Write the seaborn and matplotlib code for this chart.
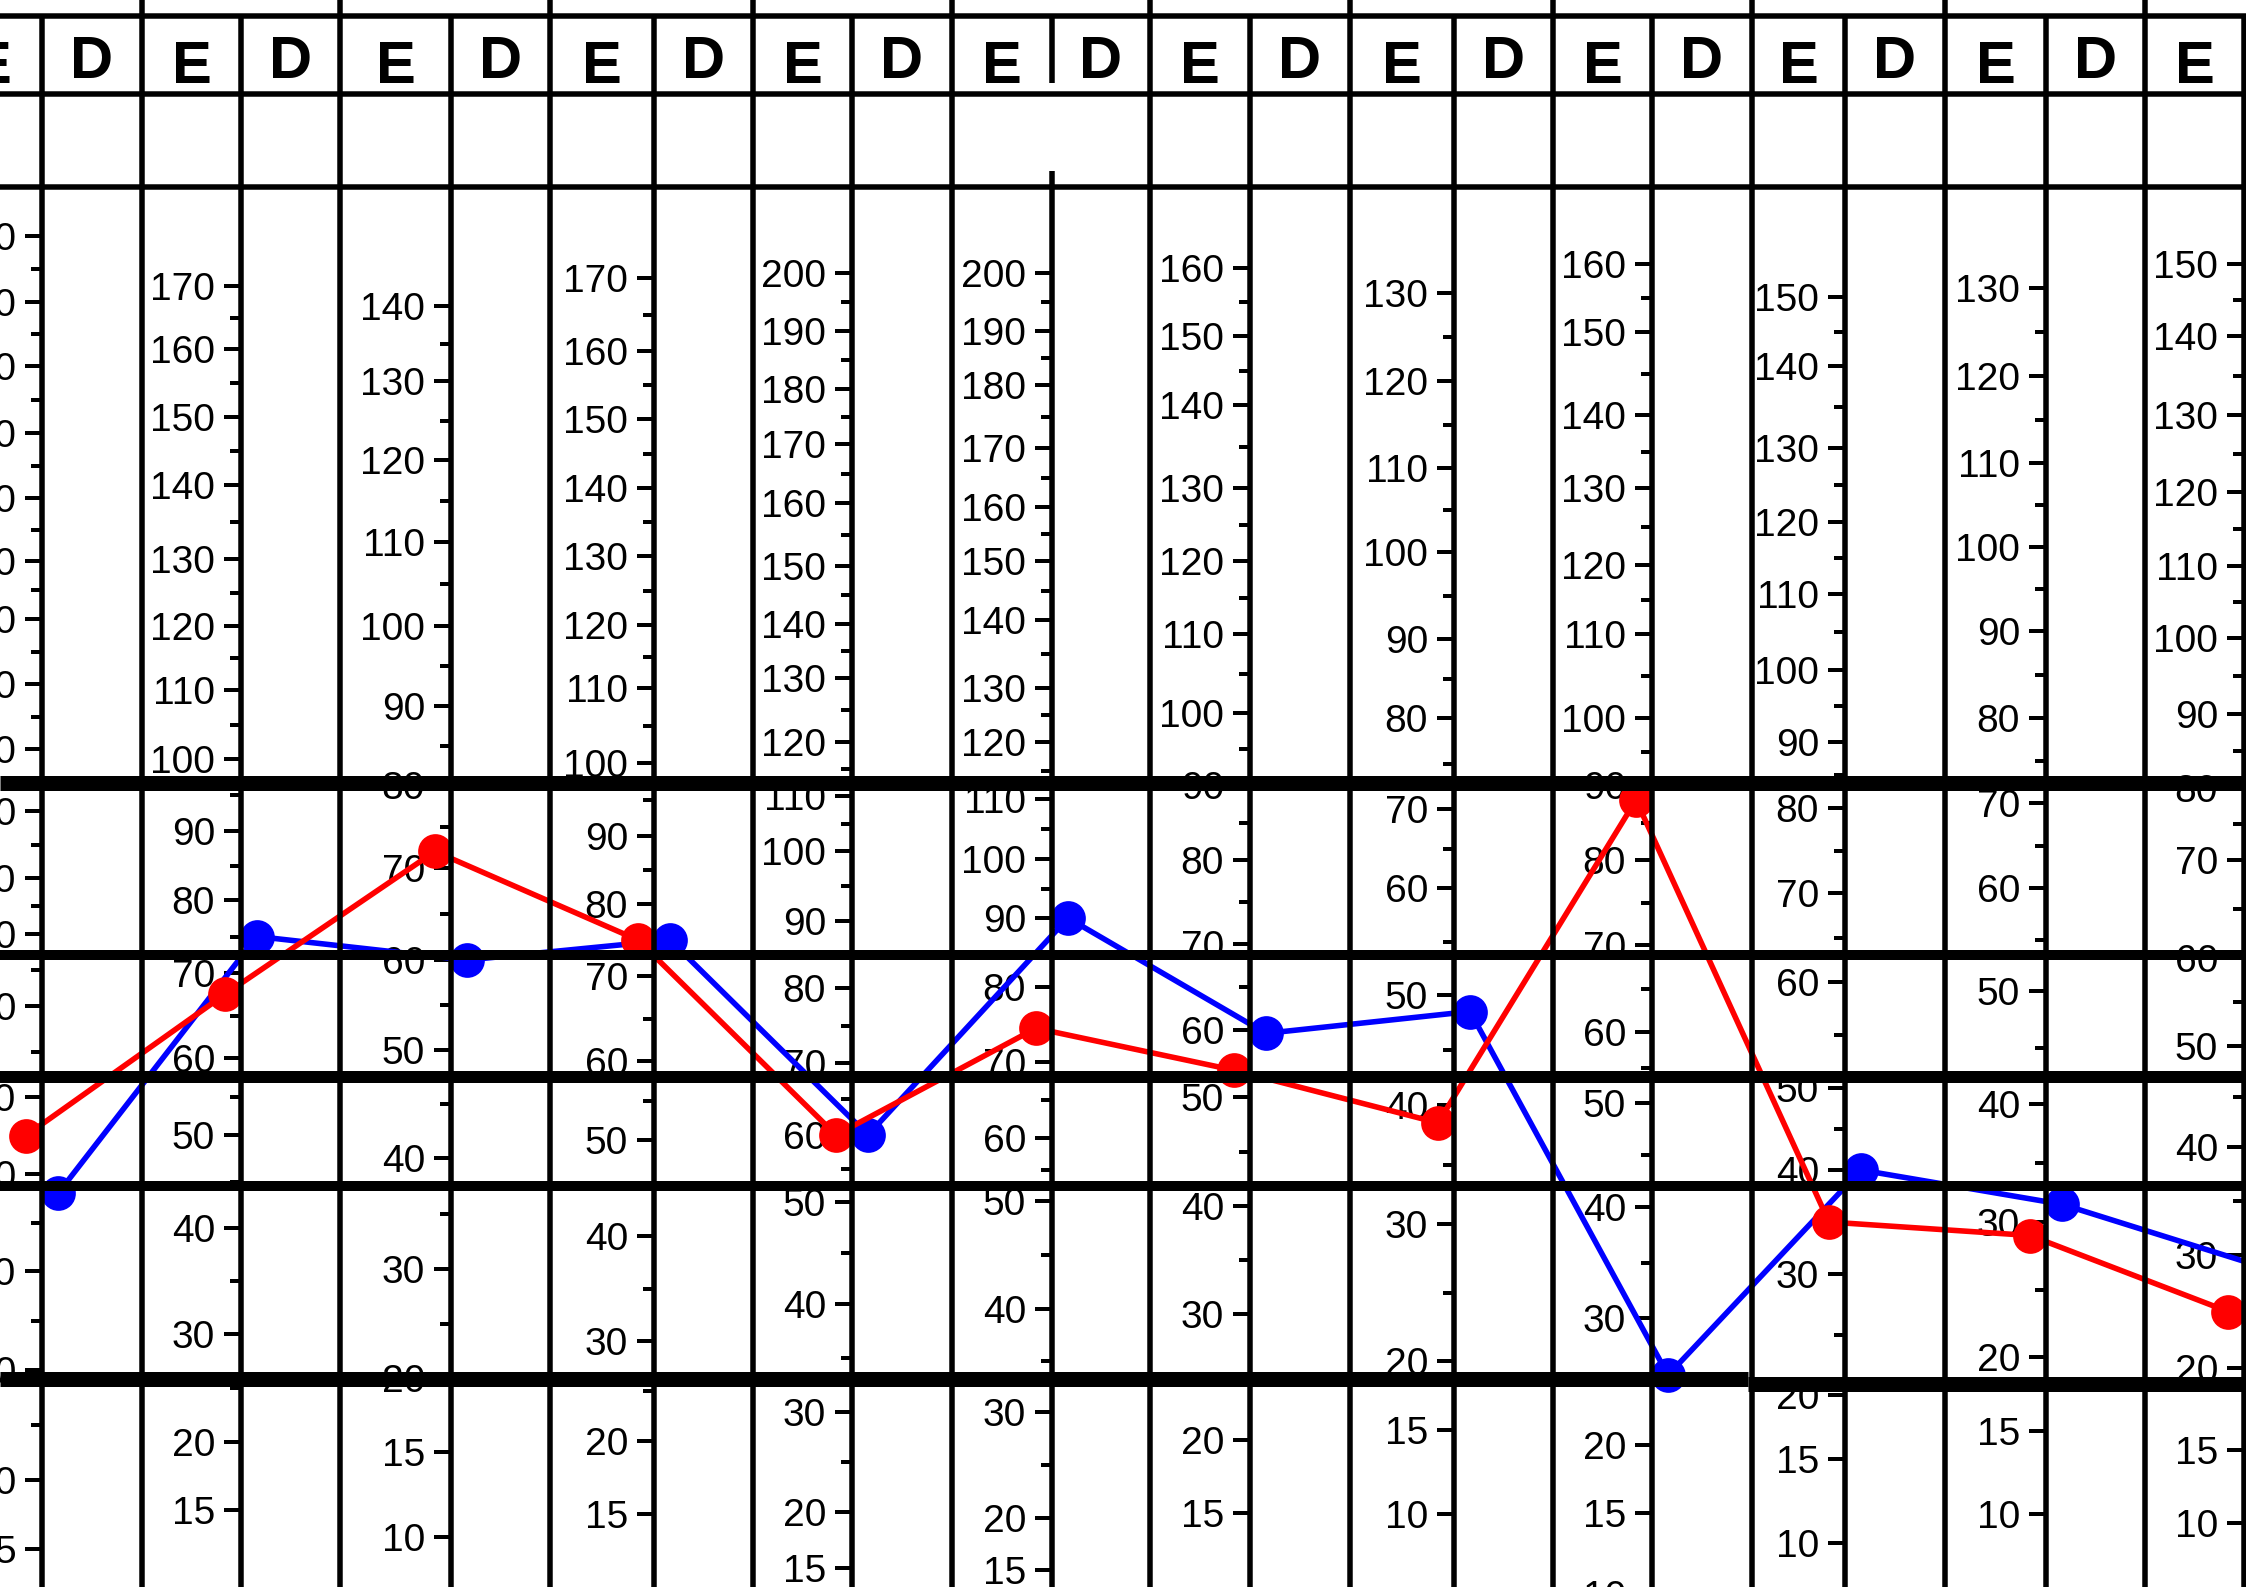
import numpy as np
import pandas as pd
import matplotlib
matplotlib.use('Agg')
import matplotlib.pyplot as plt
import seaborn as sns

sns.set_style('white')
plt.rcParams['font.family'] = ['Liberation Sans', 'DejaVu Sans']
plt.rcParams['text.color'] = 'black'

W, H = 2246, 1587
PT = 72 / 100.      # px -> pt at dpi 100

# column edges (px); columns alternate E / D starting from the left
edges = [-58, 42, 142, 241, 340, 451, 550, 654, 753, 852, 952, 1052, 1150,
         1250, 1350, 1454, 1553, 1652, 1752, 1845, 1945, 2046, 2145, 2244]

# scale of each meridian column: tick values and the row they sit on
scale_vals = [
    [180, 170, 160, 150, 140, 130, 120, 110, 100, 90, 80, 70, 60, 50, 40, 30, 20, 10, 5],
    [170, 160, 150, 140, 130, 120, 110, 100, 90, 80, 70, 60, 50, 40, 30, 20, 15],
    [140, 130, 120, 110, 100, 90, 80, 70, 60, 50, 40, 30, 20, 15, 10],
    [170, 160, 150, 140, 130, 120, 110, 100, 90, 80, 70, 60, 50, 40, 30, 20, 15],
    [200, 190, 180, 170, 160, 150, 140, 130, 120, 110, 100, 90, 80, 70, 60, 50, 40, 30, 20, 15],
    [200, 190, 180, 170, 160, 150, 140, 130, 120, 110, 100, 90, 80, 70, 60, 50, 40, 30, 20, 15],
    [160, 150, 140, 130, 120, 110, 100, 90, 80, 70, 60, 50, 40, 30, 20, 15],
    [130, 120, 110, 100, 90, 80, 70, 60, 50, 40, 30, 20, 15, 10],
    [160, 150, 140, 130, 120, 110, 100, 90, 80, 70, 60, 50, 40, 30, 20, 15, 10],
    [150, 140, 130, 120, 110, 100, 90, 80, 70, 60, 50, 40, 30, 20, 15, 10],
    [130, 120, 110, 100, 90, 80, 70, 60, 50, 40, 30, 20, 15, 10],
    [150, 140, 130, 120, 110, 100, 90, 80, 70, 60, 50, 40, 30, 20, 15, 10],
]
scale_rows = [
    [236, 302, 366, 433, 498, 561, 619, 684, 749, 811, 878, 934, 1006, 1097, 1174, 1271, 1370, 1480, 1549],
    [286, 349, 417, 485, 559, 626, 690, 759, 831, 900, 973, 1058, 1135, 1228, 1334, 1442, 1510],
    [306, 381, 460, 542, 626, 706, 785, 868, 960, 1050, 1158, 1269, 1378, 1452, 1537],
    [278, 351, 419, 488, 556, 625, 688, 763, 836, 904, 976, 1061, 1140, 1236, 1341, 1441, 1514],
    [273, 331, 389, 444, 503, 566, 624, 678, 742, 796, 851, 921, 988, 1063, 1135, 1202, 1304, 1412, 1512, 1568],
    [273, 331, 385, 448, 507, 561, 620, 688, 742, 799, 859, 918, 987, 1062, 1138, 1201, 1309, 1412, 1518, 1570],
    [268, 336, 405, 488, 561, 634, 713, 785, 860, 944, 1030, 1097, 1206, 1314, 1440, 1513],
    [293, 381, 468, 552, 639, 718, 809, 888, 995, 1105, 1224, 1361, 1430, 1514],
    [264, 332, 415, 488, 565, 634, 718, 785, 860, 945, 1032, 1103, 1207, 1318, 1445, 1513, 1594],
    [297, 366, 448, 522, 594, 670, 742, 808, 893, 982, 1088, 1170, 1274, 1395, 1459, 1543],
    [288, 376, 463, 547, 631, 718, 803, 888, 991, 1104, 1222, 1357, 1431, 1514],
    [264, 336, 415, 492, 566, 638, 714, 788, 860, 958, 1046, 1147, 1255, 1368, 1450, 1523],
]

# readings per meridian (own scale units): E = left side (red), D = right side (blue)
val_E = [45, 67.5, 72, 75, 60, 74.5, 54, 38.5, 88, 35, 29, 25]
val_D = [38, 75, 60, 75, 60, 90, 59.5, 48.5, 25.5, 40, 31.5, 29]

thick_rows = [783, 955, 1077, 1186]
thick_px = [15, 10, 12, 10]


def to_row(m, v):
    return np.interp(v, scale_vals[m][::-1], scale_rows[m][::-1])


fig = plt.figure(figsize=(W / 100, H / 100), dpi=100)
ax = fig.add_axes([0, 0, 1, 1])

# scale labels and ticks
for m in range(len(scale_vals)):
    xl = edges[2 * m + 1]
    vals, rows = scale_vals[m], scale_rows[m]
    for v, r in zip(vals, rows):
        ax.text(xl - 26, r + 14, str(v), ha='right', va='baseline', fontsize=28,
                color='black', zorder=2)
        ax.plot([xl - 17, xl], [r, r], color='black', lw=4 * PT, solid_capstyle='butt', zorder=2)
    for i in range(len(vals) - 1):
        if vals[i] - vals[i + 1] == 10:
            r = (rows[i] + rows[i + 1]) / 2
            ax.plot([xl - 11, xl], [r, r], color='black', lw=4 * PT, solid_capstyle='butt', zorder=2)

# readings
pts = []
for m in range(len(val_E)):
    xl = edges[2 * m + 1]
    pts.append({'x': xl - 16, 'y': to_row(m, val_E[m]), 'side': 'E'})
    pts.append({'x': xl + 16, 'y': to_row(m, val_D[m]), 'side': 'D'})
df = pd.DataFrame(pts)
sns.lineplot(data=df, x='x', y='y', hue='side', hue_order=['D', 'E'],
             palette={'E': '#ff0000', 'D': '#0000ff'}, estimator=None, sort=True,
             marker='o', markersize=25, markeredgewidth=0, linewidth=4.0,
             legend=False, ax=ax, zorder=3)
ax.set_xlim(0, W)
ax.set_ylim(H, 0)
ax.axis('off')

# header letters
for k in range(len(edges) - 1):
    cx = (edges[k] + edges[k + 1]) / 2
    if k % 2 == 0:
        ax.text(cx, 83, 'E', ha='center', va='baseline', fontsize=43, fontweight='bold',
                color='black', zorder=2)
    else:
        ax.text(cx, 78, 'D', ha='center', va='baseline', fontsize=43, fontweight='bold',
                color='black', zorder=2)

# grid lines
lw_thin = 5.5 * PT
for k in range(2, len(edges), 2):
    ax.vlines(edges[k], 0, 16, color='black', lw=lw_thin, zorder=5)
for x in edges[1:]:
    if x == 1052:
        ax.vlines(x, 16, 83, color='black', lw=lw_thin, zorder=5)
        ax.vlines(x, 171, H, color='black', lw=lw_thin, zorder=5)
    else:
        ax.vlines(x, 16, H, color='black', lw=lw_thin, zorder=5)
for y in [16, 94, 187]:
    ax.hlines(y, 0, W, color='black', lw=lw_thin, zorder=5)
for y, t in zip(thick_rows, thick_px):
    ax.hlines(y, 0, W, color='black', lw=t * PT, zorder=6)
ax.hlines(1379, 0, 1748, color='black', lw=15 * PT, zorder=6)
ax.hlines(1384, 1748, W, color='black', lw=15 * PT, zorder=6)

fig.savefig('out.png', dpi=100, facecolor='white')
